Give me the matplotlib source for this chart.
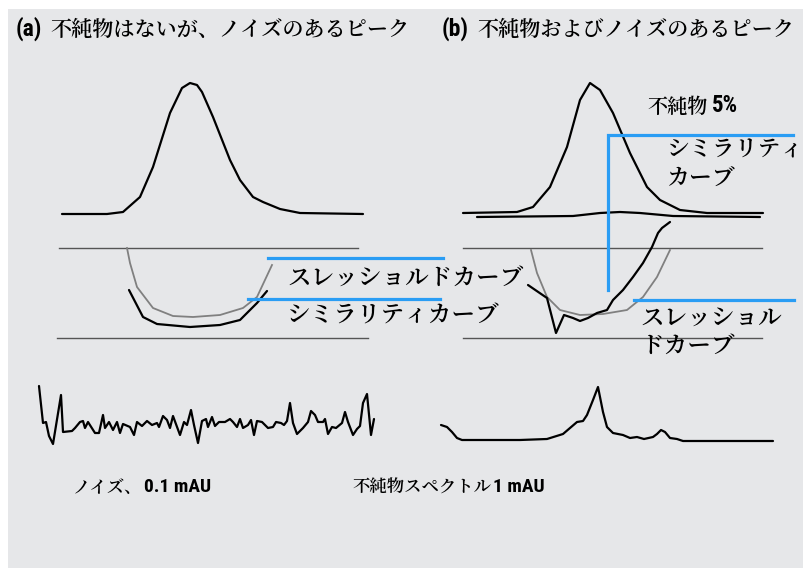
import matplotlib
matplotlib.use("Agg")
import matplotlib.pyplot as plt
from matplotlib.patches import Rectangle
from matplotlib import font_manager

names = {f.name for f in font_manager.fontManager.ttflist}
JP_MAIN = "Noto Serif CJK JP" if "Noto Serif CJK JP" in names else "Noto Sans CJK JP"
JP = [JP_MAIN, "Noto Sans CJK JP", "DejaVu Sans"]
LAT = ["Roboto Condensed"] if "Roboto Condensed" in names else ["Roboto"]

# ---------------- data (diagram coordinates, pixel-like units) ----------------
peak_a_x = [62, 107, 123, 140, 153, 170, 182, 190, 197, 202, 213, 230, 240, 253, 263, 280, 300, 363]
peak_a_y = [214, 214, 212, 197, 167, 113, 88, 83, 85, 92, 117, 160, 180, 197, 202, 209, 213, 214]

peak_b_x = [463, 517, 533, 550, 567, 580, 590, 600, 613, 630, 647, 660, 680, 707, 763]
peak_b_y = [213, 212, 207, 187, 147, 100, 83, 90, 113, 153, 187, 200, 210, 213, 213]

impurity_b_x = [477, 573, 600, 620, 640, 673, 760]
impurity_b_y = [217, 216, 213, 212, 213, 216, 217]

thresh_a_x = [127, 130, 137, 153, 173, 193, 220, 243, 257, 272]
thresh_a_y = [248, 263, 287, 308, 316, 317, 315, 308, 297, 265]

simil_a_x = [129, 143, 157, 190, 220, 240, 257, 267]
simil_a_y = [290, 317, 324, 327, 325, 320, 303, 291]

thresh_b_x = [531, 537, 547, 560, 580, 603, 627, 643, 657, 670]
thresh_b_y = [250, 273, 297, 310, 315, 314, 310, 297, 277, 250]

simil_b_x = [528, 547, 556, 564, 573, 580, 588, 597, 607, 613, 623, 633, 643, 652, 658, 662, 670]
simil_b_y = [285, 298, 333, 315, 318, 321, 318, 313, 310, 300, 290, 277, 263, 247, 233, 228, 222]

noise_x = [39, 43, 46, 49, 53, 61, 63, 72, 75, 80, 83, 85, 88, 95, 99, 103, 105, 109, 113, 117,
           120, 123, 130, 134, 137, 142, 147, 152, 157, 159, 163, 167, 170, 173, 180, 184, 187,
           191, 194, 198, 202, 206, 208, 212, 215, 219, 225, 230, 233, 237, 240, 243, 248, 251,
           254, 257, 262, 268, 273, 276, 281, 284, 287, 290, 293, 297, 303, 308, 311, 315, 318,
           323, 325, 328, 332, 336, 342, 345, 348, 353, 357, 360, 363, 367, 371, 374]
noise_y = [386, 423, 422, 436, 444, 395, 432, 431, 428, 422, 421, 428, 422, 433, 433, 415, 428,
           422, 430, 422, 433, 424, 427, 435, 422, 426, 421, 425, 423, 427, 416, 420, 428, 416,
           435, 422, 425, 410, 425, 443, 421, 419, 427, 417, 426, 422, 422, 419, 422, 427, 419,
           428, 425, 420, 435, 421, 422, 428, 427, 422, 423, 425, 421, 403, 423, 434, 428, 422,
           411, 415, 422, 422, 419, 434, 427, 428, 423, 412, 422, 435, 429, 426, 403, 394, 435,
           419]

spec_x = [441, 447, 452, 457, 462, 487, 520, 547, 563, 570, 577, 583, 587, 593, 598, 603, 607,
          613, 623, 630, 637, 644, 653, 657, 661, 665, 670, 677, 683, 773]
spec_y = [425, 427, 432, 438, 440, 440, 440, 439, 434, 428, 422, 421, 415, 400, 387, 412, 427,
          433, 435, 438, 437, 439, 437, 434, 430, 432, 438, 439, 441, 441]

# reference (horizontal) lines: y level, x start, x end
ref_y = [248, 338, 248, 338]
ref_x0 = [59, 57, 463, 463]
ref_x1 = [358, 368, 762, 762]

# blue label lead lines (polylines)
blue_lines = [
    ([268, 443], [258, 258]),
    ([248, 440], [299, 299]),
    ([608, 608, 793], [290, 135, 135]),
    ([634, 794], [300, 300]),
]

# ---------------- figure ----------------
fig = plt.figure(figsize=(8.05, 5.68), dpi=100)
fig.patch.set_facecolor("white")
ax = fig.add_axes([0, 0, 1, 1])
ax.set_xlim(0, 805)
ax.set_ylim(568, 0)
ax.axis("off")

ax.add_patch(Rectangle((8, 9), 795, 570, facecolor="#e6e7e9", edgecolor="none", zorder=0))

for y, x0, x1 in zip(ref_y, ref_x0, ref_x1):
    ax.plot([x0, x1], [y, y], color="#555555", lw=1.0, zorder=1)

black = dict(color="black", lw=1.6, solid_joinstyle="round", solid_capstyle="round", zorder=3)
ax.plot(peak_a_x, peak_a_y, **black)
ax.plot(peak_b_x, peak_b_y, **black)
ax.plot(impurity_b_x, impurity_b_y, **black)
ax.plot(simil_a_x, simil_a_y, **black)
ax.plot(simil_b_x, simil_b_y, **black)
ax.plot(noise_x, noise_y, **black)
ax.plot(spec_x, spec_y, **black)

gray = dict(color="#808080", lw=1.3, solid_joinstyle="round", zorder=2)
ax.plot(thresh_a_x, thresh_a_y, **gray)
ax.plot(thresh_b_x, thresh_b_y, **gray)

for xs, ys in blue_lines:
    ax.plot(xs, ys, color="#2a9df4", lw=2.3, solid_joinstyle="miter", zorder=4)

# ---------------- text ----------------
def latin(x, y, s, size):
    ax.text(x, y, s, family=LAT, weight="bold", fontsize=size, va="center", ha="left", zorder=5)

def jp(x, y, s, size, weight="semibold"):
    ax.text(x, y, s, family=JP, fontsize=size, weight=weight, va="center", ha="left", zorder=5)

latin(16, 29, "(a)", 17)
jp(50, 30, "不純物はないが、ノイズのあるピーク", 15.2)
latin(442, 29, "(b)", 17)
jp(477, 30, "不純物およびノイズのあるピーク", 15.2)

jp(647, 107, "不純物", 14.5)
latin(712, 106, "5%", 16.5)

jp(667, 150, "シミラリティ", 16.5)
jp(667, 178, "カーブ", 16.5)

jp(287, 278, "スレッショルドカーブ", 17)
jp(287, 316, "シミラリティカーブ", 17)

jp(640, 318, "スレッショル", 17)
jp(640, 346, "ドカーブ", 17)

jp(73, 488, "ノイズ、", 12.5)
latin(144, 487, "0.1 mAU", 14)
jp(352, 488, "不純物スペクトル", 12.5)
latin(493, 487, "1 mAU", 14)

fig.savefig("out.png", dpi=100, facecolor="white")
